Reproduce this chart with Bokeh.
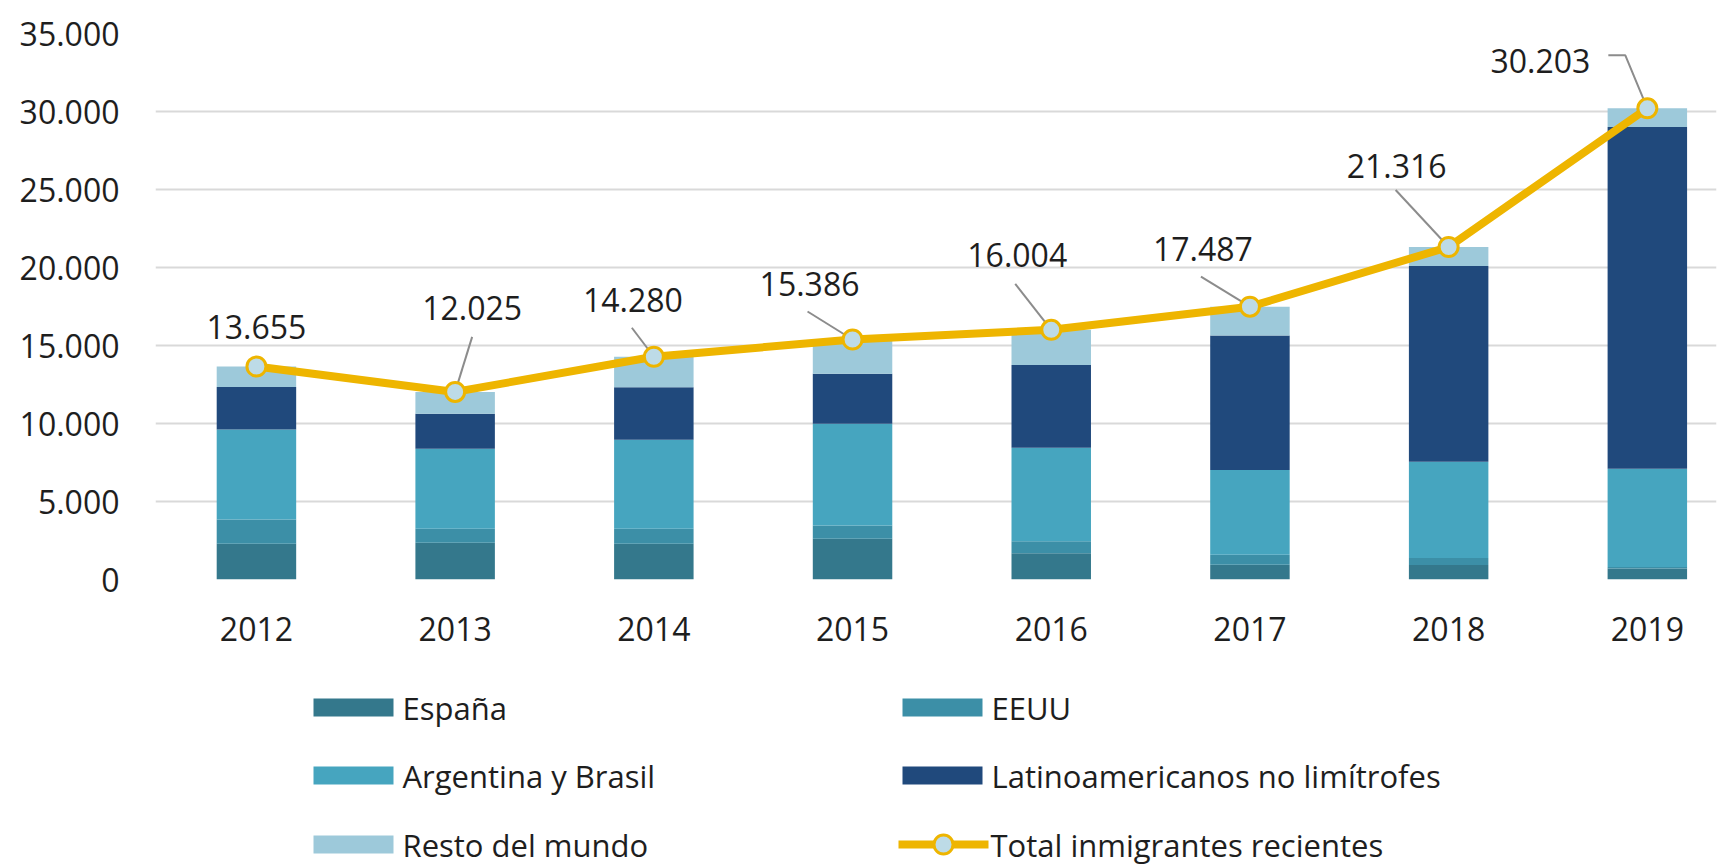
from bokeh.plotting import figure
from bokeh.models import Range1d, FixedTicker, ColumnDataSource
from bokeh.layouts import column
from bokeh.embed import file_html
from bokeh.resources import INLINE
from bokeh.core.properties import value

# ---------------- data ----------------
years = ["2012", "2013", "2014", "2015", "2016", "2017", "2018", "2019"]
espana = [2290, 2350, 2290, 2610, 1690, 945, 935, 700]
eeuu = [1560, 900, 960, 850, 755, 645, 450, 100]
arg_bra = [5770, 5130, 5705, 6520, 6005, 5425, 6165, 6300]
latam = [2720, 2240, 3375, 3205, 5300, 8625, 12550, 21900]
resto = [1315, 1405, 1950, 2201, 2254, 1847, 1216, 1203]
total = [13655, 12025, 14280, 15386, 16004, 17487, 21316, 30203]

y_ticks = [0, 5000, 10000, 15000, 20000, 25000, 30000, 35000]
y_tick_labels = ["0", "5.000", "10.000", "15.000", "20.000", "25.000", "30.000", "35.000"]

series_names = ["España", "EEUU", "Argentina y Brasil",
                "Latinoamericanos no limítrofes", "Resto del mundo"]
line_name = "Total inmigrantes recientes"

# ---------------- style / layout ----------------
colors = ["#34788c", "#3c8fa7", "#46a5bf", "#20497c", "#9dc9da"]
gold = "#eeb500"
marker_fill = "#bddbe7"
grid_color = "#d9d9d9"
text_color = "#1e1e1e"
FONT = "Open Sans"

LEFT, TOP = 155, 33
FRAME_W, FRAME_H = 1561, 546
BOTTOM = 80
X_START = -0.508
X_END = X_START + FRAME_W / 198.7
Y_END = 35000

# label centre offsets from each point, in screen pixels (y down)
label_offsets_px = [(0, -39), (17, -84), (-21, -57), (-43, -55),
                    (-34, -75), (-47, -58), (-52, -81), (-107, -47)]
# leader paths relative to point, screen pixels (y down)
leader_paths_px = [None,
                   [(17, -55), (0, 0)],
                   [(-22, -29), (0, 0)],
                   [(-45, -28), (0, 0)],
                   [(-36, -46), (0, 0)],
                   [(-49, -30), (0, 0)],
                   [(-53, -57), (0, 0)],
                   [(-39, -53), (-22, -53), (0, 0)]]

kx = FRAME_W / (X_END - X_START)
ky = FRAME_H / Y_END

xs = list(range(len(years)))
stack_keys = ["espana", "eeuu", "arg_bra", "latam", "resto"]
src = ColumnDataSource(dict(x=xs, espana=espana, eeuu=eeuu, arg_bra=arg_bra,
                            latam=latam, resto=resto, total=total))

p = figure(frame_width=FRAME_W, frame_height=FRAME_H,
           x_range=Range1d(X_START, X_END), y_range=Range1d(0, Y_END),
           min_border_left=LEFT, min_border_right=1, min_border_top=TOP,
           min_border_bottom=BOTTOM, output_backend="svg", toolbar_location=None)
p.outline_line_color = None
p.background_fill_color = "white"
p.border_fill_color = "white"

p.xgrid.grid_line_color = None
p.ygrid.grid_line_color = grid_color
p.ygrid.grid_line_width = 2

for ax in (p.xaxis[0], p.yaxis[0]):
    ax.axis_line_color = None
    ax.major_tick_line_color = None
    ax.minor_tick_line_color = None
    ax.major_label_text_font = FONT
    ax.major_label_text_font_size = "32px"
    ax.major_label_text_color = text_color

p.yaxis.ticker = FixedTicker(ticks=y_ticks)
p.yaxis.major_label_overrides = {t: l for t, l in zip(y_ticks, y_tick_labels)}
p.yaxis.major_label_standoff = 30
p.xaxis.ticker = FixedTicker(ticks=xs)
p.xaxis.major_label_overrides = {i: y for i, y in zip(xs, years)}
p.xaxis.major_label_standoff = 31

p.vbar_stack(stack_keys, x="x", width=0.4, color=colors, line_color=None, source=src)

# leader lines
lx, ly = [], []
for i, path in enumerate(leader_paths_px):
    if path is None:
        continue
    lx.append([i + dx / kx for dx, dy in path])
    ly.append([total[i] - dy / ky for dx, dy in path])
p.multi_line(lx, ly, line_color="#8c8c8c", line_width=2)

p.line("x", "total", source=src, line_color=gold, line_width=8, line_join="round")
p.scatter("x", "total", source=src, size=19, marker="circle",
          fill_color=marker_fill, line_color=gold, line_width=3)

lab_x = [i + off[0] / kx for i, off in enumerate(label_offsets_px)]
lab_y = [t - off[1] / ky for t, off in zip(total, label_offsets_px)]
lab_t = [f"{t:,}".replace(",", ".") for t in total]
p.text(lab_x, lab_y, text=lab_t, text_font=value(FONT), text_font_size="32px",
       text_color=text_color, text_align="center", text_baseline="middle")

# ---------------- legend (page pixel coordinates) ----------------
LEG_TOP = TOP + FRAME_H + BOTTOM
LEG_H = 867 - LEG_TOP
leg = figure(frame_width=FRAME_W, height=LEG_H,
             x_range=Range1d(LEFT, LEFT + FRAME_W),
             y_range=Range1d(LEG_TOP + LEG_H, LEG_TOP),
             min_border_left=LEFT, min_border_right=1,
             min_border_top=0, min_border_bottom=0,
             x_axis_type=None, y_axis_type=None,
             output_backend="svg", toolbar_location=None)
leg.outline_line_color = None
leg.grid.visible = False

col_x = [313, 902]
row_y = [707, 775, 844]
sw_w, sw_h = 80, 18
names = series_names + [line_name]
qx0, qx1, qy0, qy1, qc = [], [], [], [], []
tx, ty = [], []
for i, name in enumerate(names):
    c, r = i % 2, i // 2
    x0, yc = col_x[c], row_y[r]
    if i < len(series_names):
        qx0.append(x0); qx1.append(x0 + sw_w)
        qy0.append(yc - sw_h / 2); qy1.append(yc + sw_h / 2)
        qc.append(colors[i])
        tx.append(x0 + sw_w + 9)
    else:
        leg.line([x0 - 4, x0 + 86], [yc, yc], line_color=gold, line_width=8)
        leg.scatter([x0 + 41], [yc], size=19, marker="circle",
                    fill_color=marker_fill, line_color=gold, line_width=3)
        tx.append(x0 + 88)
    ty.append(yc)
leg.quad(left=qx0, right=qx1, bottom=qy0, top=qy1, fill_color=qc, line_color=None)
leg.text(tx, ty, text=names, text_font=value(FONT), text_font_size="31px",
         text_color=text_color, text_align="left", text_baseline="middle")

layout = column(p, leg, spacing=0)
open("out.html", "w").write(file_html(layout, INLINE))
